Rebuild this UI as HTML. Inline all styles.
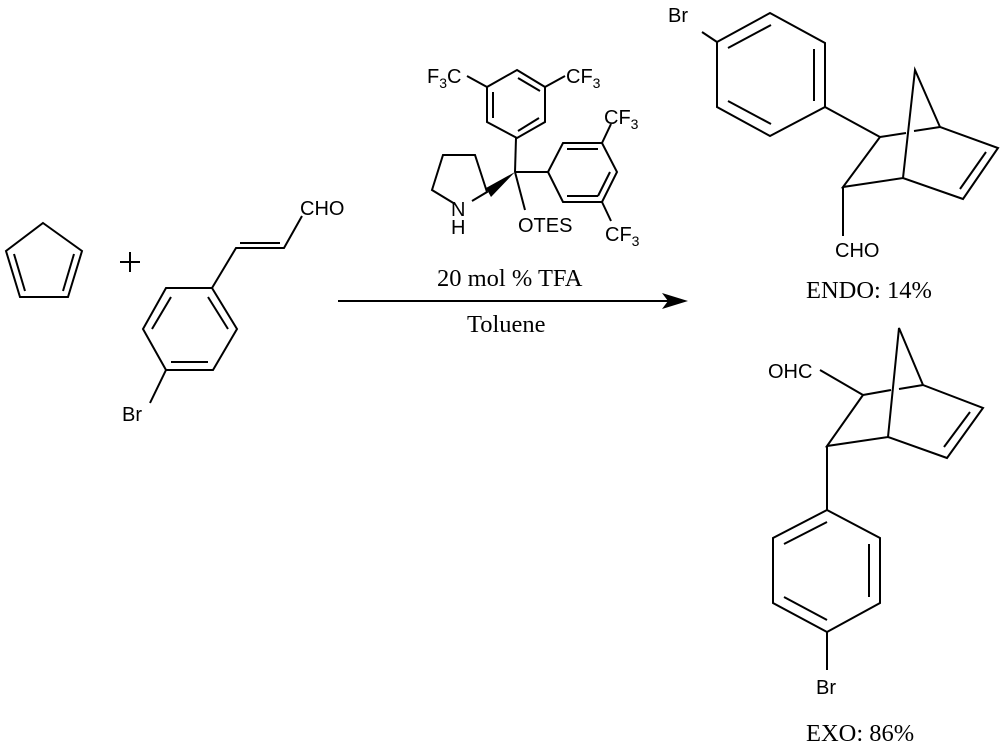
<!DOCTYPE html>
<html><head><meta charset="utf-8"><style>
html,body{margin:0;padding:0;background:#fff;}
svg{display:block;}
.s{font-family:"Liberation Sans",sans-serif;font-size:20px;fill:#000;}
.r{font-family:"Liberation Serif",serif;font-size:24.5px;fill:#000;}
.sub{font-size:14px;}
</style></head><body>
<svg width="1006" height="751" viewBox="0 0 1006 751" xmlns="http://www.w3.org/2000/svg">
<g stroke="#000" stroke-width="2" fill="none" stroke-linejoin="miter">
<polygon points="43,223 82,251 68,297 20,297 6,251"/>
<line x1="14" y1="254" x2="25" y2="291"/>
<line x1="74" y1="254" x2="63" y2="291"/>
<line x1="120" y1="262" x2="140" y2="262"/>
<line x1="130" y1="252" x2="130" y2="272"/>
<polygon points="166,288 212,288 237,329 213,370 166,370 143,329"/>
<line x1="171" y1="297" x2="152" y2="329"/>
<line x1="208" y1="297" x2="228" y2="329"/>
<line x1="208" y1="362" x2="171" y2="362"/>
<line x1="166" y1="370" x2="150" y2="403"/>
<polyline points="212,288 236,248 284,248 302,216"/>
<line x1="240" y1="243" x2="280" y2="243"/>
<line x1="338" y1="301" x2="668" y2="301"/>
<polygon points="517,70 545,87 545,122 517,138 487,122 487,87"/>
<line x1="493" y1="92" x2="493" y2="118"/>
<line x1="518" y1="78" x2="540" y2="91"/>
<line x1="539" y1="118" x2="518" y2="131"/>
<line x1="487" y1="87" x2="467" y2="76"/>
<line x1="545" y1="87" x2="565" y2="76"/>
<line x1="516" y1="138" x2="515" y2="172"/>
<line x1="515" y1="172" x2="548" y2="172"/>
<polygon points="548,172 563,143 602,143 617,172 602,202 563,202"/>
<line x1="567" y1="149" x2="598" y2="149"/>
<line x1="610" y1="172" x2="598" y2="196"/>
<line x1="567" y1="196" x2="598" y2="196"/>
<line x1="602" y1="143" x2="611" y2="124"/>
<line x1="602" y1="202" x2="611" y2="221"/>
<polyline points="455,204 432,190 443,155 475,155 487,192 472,201"/>
<line x1="515" y1="172" x2="525" y2="210"/>
<polygon points="717,42 770,13 825,43 825,107 770,136 717,107"/>
<line x1="728" y1="48" x2="771" y2="25"/>
<line x1="814" y1="49" x2="814" y2="101"/>
<line x1="771" y1="124" x2="728" y2="101"/>
<line x1="717" y1="42" x2="702" y2="32"/>
<line x1="825" y1="107" x2="880" y2="137"/>
<polyline points="880,137 843,187 903,178 963,199 998,148 940,127 915,70 903,178"/>
<line x1="880" y1="137" x2="906" y2="133"/>
<line x1="914" y1="131" x2="940" y2="127"/>
<line x1="960" y1="189" x2="986" y2="152"/>
<line x1="843" y1="187" x2="843" y2="236"/>
<polyline points="863,395 827,446 888,437 947,458 983,408 923,385 899,328 888,437"/>
<line x1="863" y1="395" x2="891" y2="390"/>
<line x1="899" y1="389" x2="923" y2="385"/>
<line x1="944" y1="447" x2="970" y2="412"/>
<line x1="863" y1="395" x2="820" y2="370"/>
<line x1="827" y1="446" x2="827" y2="510"/>
<polygon points="827,510 880,538 880,603 827,632 773,603 773,538"/>
<line x1="827" y1="522" x2="784" y2="544"/>
<line x1="869" y1="544" x2="869" y2="597"/>
<line x1="827" y1="620" x2="784" y2="597"/>
<line x1="827" y1="632" x2="827" y2="670"/>
</g>
<polygon points="688,301 662,293 668,301 662,309" fill="#000"/>
<polygon points="515,172 486,188 491,197" fill="#000"/>
<text class="s" x="300" y="215">CHO</text>
<text class="s" x="122" y="421">Br</text>
<text class="s" x="427" y="83">F<tspan class="sub" dy="5">3</tspan><tspan dy="-5">C</tspan></text>
<text class="s" x="566" y="83">CF<tspan class="sub" dy="5">3</tspan></text>
<text class="s" x="604" y="124">CF<tspan class="sub" dy="5">3</tspan></text>
<text class="s" x="605" y="241">CF<tspan class="sub" dy="5">3</tspan></text>
<text class="s" x="451" y="216">N</text>
<text class="s" x="451" y="234">H</text>
<text class="s" x="518" y="232">OTES</text>
<text class="r" x="437" y="286">20 mol % TFA</text>
<text class="r" x="467" y="332">Toluene</text>
<text class="s" x="668" y="22">Br</text>
<text class="s" x="835" y="257">CHO</text>
<text class="r" x="806" y="298">ENDO: 14%</text>
<text class="s" x="768" y="378">OHC</text>
<text class="s" x="816" y="694">Br</text>
<text class="r" x="806" y="741">EXO: 86%</text>
</svg>
</body></html>
